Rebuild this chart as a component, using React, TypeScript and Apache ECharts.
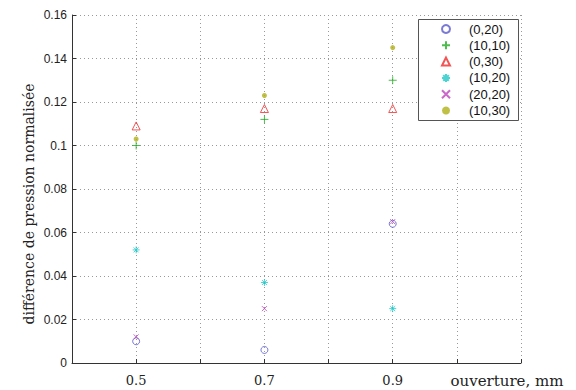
import React, { useEffect, useRef } from "react";
import * as echarts from "echarts";

const openings = [0.5, 0.7, 0.9];
const seriesNames = ["(0,20)", "(10,10)", "(0,30)", "(10,20)", "(20,20)", "(10,30)"];
const s0_20 = [0.01, 0.006, 0.064];
const s10_10 = [0.1, 0.112, 0.13];
const s0_30 = [0.109, 0.117, 0.117];
const s10_20 = [0.052, 0.037, 0.025];
const s20_20 = [0.012, 0.025, 0.065];
const s10_30 = [0.103, 0.123, 0.145];
const shownXLabels = [0.5, 0.7, 0.9];
const xTitle = "ouverture, mm";
const yTitle = "différence de pression normalisée";

const STAR = "path://M5 0L5 10M0 5L10 5M1.5 1.5L8.5 8.5M8.5 1.5L1.5 8.5";
const PLUS = "path://M5 0L5 10M0 5L10 5";
const CROSS = "path://M0 0L10 10M10 0L0 10";

export default function App() {
  const ref = useRef<HTMLDivElement>(null);
  useEffect(() => {
    if (!ref.current) return;
    const chart = echarts.init(ref.current, null, { renderer: "svg" });
    const mk = (vals: number[]) => openings.map((x, i) => [x, vals[i]]);
    const hollow = (c: string) => ({ color: "rgba(0,0,0,0)", borderColor: c, borderWidth: 1 });
    chart.setOption({
      animation: false,
      backgroundColor: "#ffffff",
      grid: { left: 72, right: 55, top: 15, bottom: 27 },
      xAxis: {
        type: "value",
        min: 0.4,
        max: 1.1,
        interval: 0.1,
        axisLine: { show: true, onZero: false, lineStyle: { color: "#333", width: 1 } },
        axisTick: { show: true, inside: true, length: 4, lineStyle: { color: "#333" } },
        axisLabel: {
          margin: 11,
          color: "#222",
          fontFamily: "DejaVu Serif",
          fontSize: 13,
          formatter: (v: number) => {
            const r = Math.round(v * 10) / 10;
            return shownXLabels.some((s) => Math.abs(s - r) < 1e-6) ? r.toFixed(1) : "";
          },
        },
        splitLine: { show: true, lineStyle: { color: "#999", type: [1, 3], width: 1 } },
      },
      yAxis: {
        type: "value",
        min: 0,
        max: 0.16,
        interval: 0.02,
        axisLine: { show: true, lineStyle: { color: "#333", width: 1 } },
        axisTick: { show: true, inside: true, length: 4, lineStyle: { color: "#333" } },
        axisLabel: { margin: 5, color: "#222", fontFamily: "Liberation Sans", fontSize: 12 },
        splitLine: { show: true, lineStyle: { color: "#999", type: [1, 3], width: 1 } },
      },
      legend: {
        orient: "vertical",
        left: 441,
        top: 22,
        itemWidth: 8,
        itemHeight: 8,
        itemGap: 2.3,
        padding: 0,
        textStyle: { fontFamily: "Liberation Sans", fontSize: 13, color: "#111", lineHeight: 14, padding: [0, 0, 0, 14] },
        data: seriesNames,
      },
      graphic: [
        {
          type: "rect",
          shape: { x: 418.5, y: 19.5, width: 100, height: 101 },
          style: { fill: "#fff", stroke: "#555", lineWidth: 1 },
          z: 1,
        },
        {
          type: "text",
          x: 507,
          y: 381,
          style: {
            text: xTitle,
            fontFamily: "DejaVu Serif",
            fontSize: 15,
            fill: "#222",
            align: "center",
            verticalAlign: "middle",
          },
        },
        {
          type: "text",
          x: 29,
          y: 204,
          rotation: Math.PI / 2,
          style: {
            text: yTitle,
            fontFamily: "DejaVu Serif",
            fontSize: 14,
            fill: "#222",
            align: "center",
            verticalAlign: "middle",
          },
        },
      ],
      series: [
        { name: seriesNames[0], type: "scatter", symbol: "circle", symbolSize: 7, data: mk(s0_20), itemStyle: hollow("#5a5acc") },
        { name: seriesNames[1], type: "scatter", symbol: PLUS, symbolSize: 8, data: mk(s10_10), itemStyle: hollow("#22aa22") },
        { name: seriesNames[2], type: "scatter", symbol: "triangle", symbolSize: 8, data: mk(s0_30), itemStyle: hollow("#ee2a2a") },
        { name: seriesNames[3], type: "scatter", symbol: STAR, symbolSize: 7, data: mk(s10_20), itemStyle: hollow("#22c8c8") },
        { name: seriesNames[4], type: "scatter", symbol: CROSS, symbolSize: 5, data: mk(s20_20), itemStyle: hollow("#bb44bb") },
        { name: seriesNames[5], type: "scatter", symbol: "circle", symbolSize: 5, data: mk(s10_30), itemStyle: { color: "#b0b018" } },
      ],
    });
    return () => chart.dispose();
  }, []);
  return <div ref={ref} style={{ width: 576, height: 390, position: "absolute", left: 0, top: 0 }} />;
}
